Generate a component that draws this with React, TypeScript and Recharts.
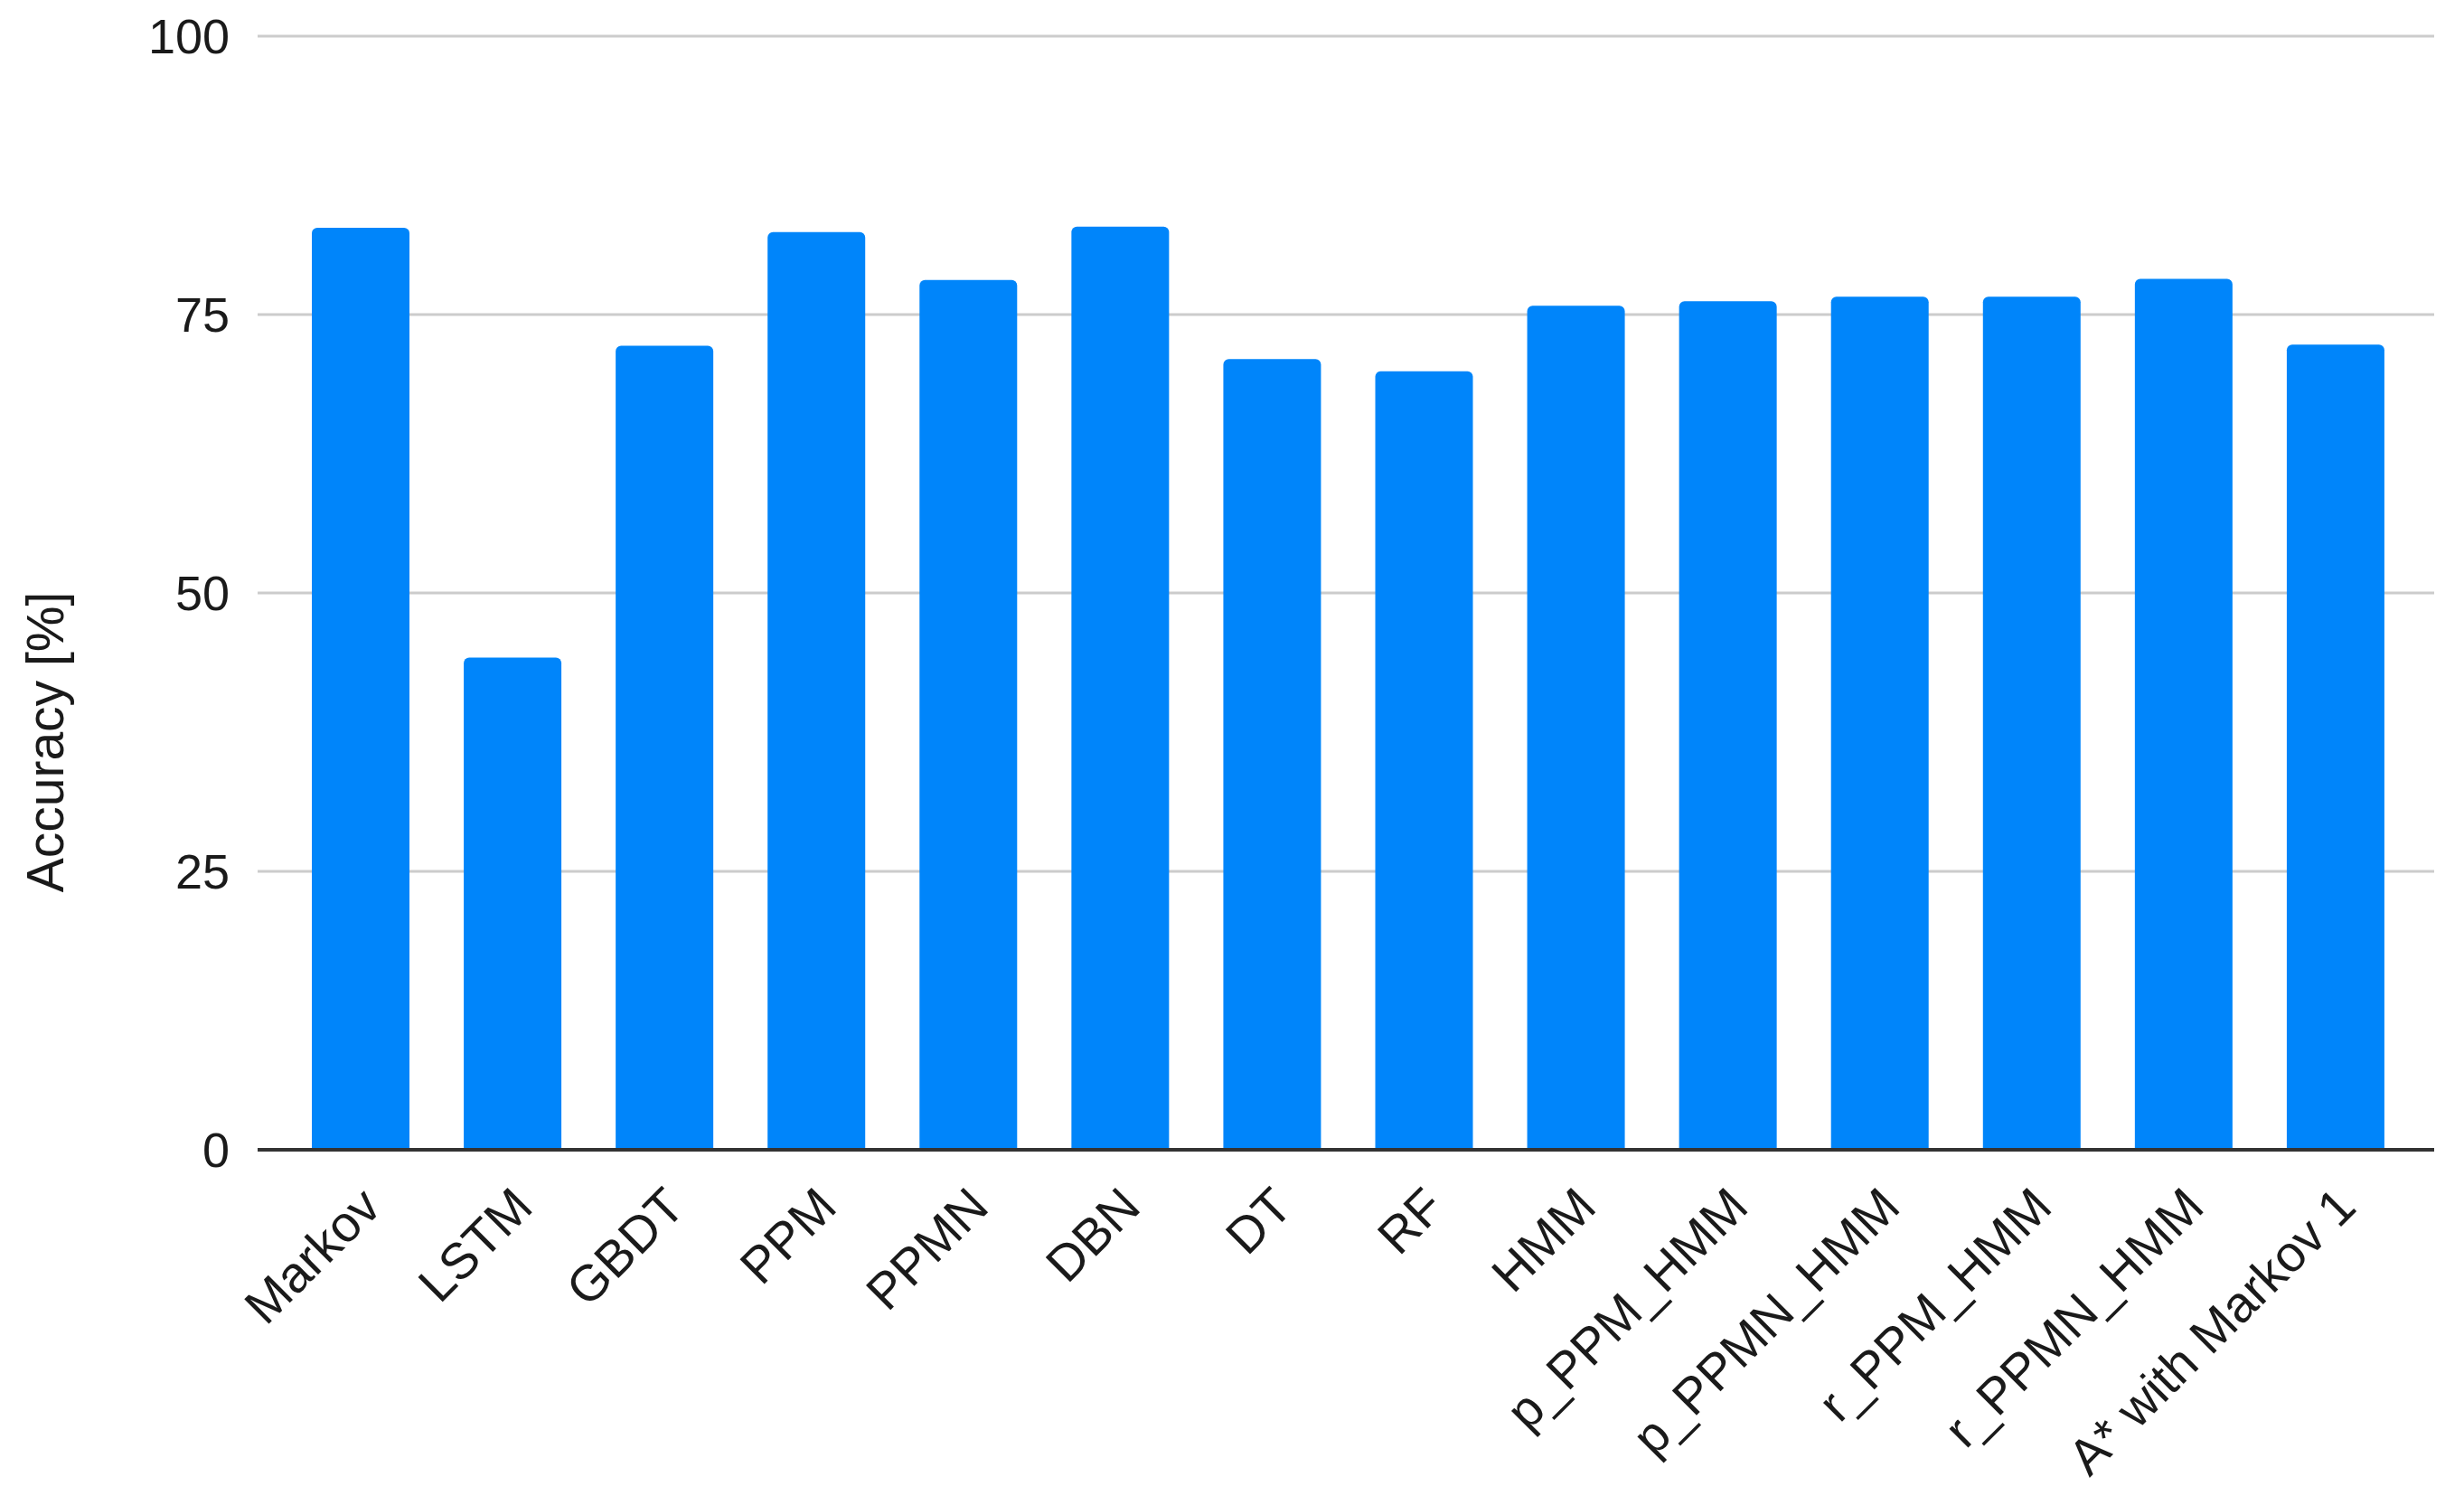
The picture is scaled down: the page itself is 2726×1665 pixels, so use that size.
import React from "react";
import { BarChart, Bar, XAxis, YAxis, CartesianGrid } from "recharts";

const MODELS = [
  "Markov",
  "LSTM",
  "GBDT",
  "PPM",
  "PPMN",
  "DBN",
  "DT",
  "RF",
  "HMM",
  "p_PPM_HMM",
  "p_PPMN_HMM",
  "r_PPM_HMM",
  "r_PPMN_HMM",
  "A* with Markov 1",
];

const ACCURACY = [
  82.8, 44.2, 72.2, 82.4, 78.1, 82.9, 71.0, 69.9, 75.8, 76.2, 76.6, 76.6, 78.2,
  72.3,
];

const Y_TICKS = [0, 25, 50, 75, 100];

const FONT = '"Liberation Sans", Arial, sans-serif';
const BLUE = "#0085FA";

const data = MODELS.map((name, i) => ({ name, accuracy: ACCURACY[i] }));

function CategoryTick({ x, y, payload }: any) {
  const ax = x + 25;
  const ay = y + 66;
  return (
    <text
      x={ax}
      y={ay}
      transform={`rotate(-45 ${ax} ${ay})`}
      textAnchor="end"
      fontSize={56}
      fontFamily={FONT}
      fill="#1a1a1a"
    >
      {payload.value}
    </text>
  );
}

function AxisTitle({ viewBox }: any) {
  const cx = viewBox.x + 50;
  const cy = viewBox.y + viewBox.height / 2 + 165;
  return (
    <text
      x={cx}
      y={cy}
      transform={`rotate(-90 ${cx} ${cy})`}
      textAnchor="middle"
      dominantBaseline="central"
      fontSize={57}
      fontFamily={FONT}
      fill="#1a1a1a"
    >
      Accuracy [%]
    </text>
  );
}

export default function App() {
  return (
    <div style={{ width: 2726, height: 1665, background: "#fff" }}>
      <style>{"body{margin:0}"}</style>
      <BarChart
        width={2726}
        height={1665}
        data={data}
        margin={{ top: 40, right: 33, bottom: 0, left: 0 }}
      >
        <CartesianGrid vertical={false} stroke="#cccccc" strokeWidth={3} />
        <XAxis
          dataKey="name"
          height={393}
          interval={0}
          padding={{ left: 30, right: 25 }}
          axisLine={{ stroke: "#333", strokeWidth: 4 }}
          tickLine={false}
          tickSize={0}
          tickMargin={0}
          tick={<CategoryTick />}
        />
        <YAxis
          width={285}
          domain={[0, 100]}
          ticks={Y_TICKS}
          axisLine={false}
          tickLine={false}
          tickSize={0}
          tickMargin={31}
          tick={{ fontSize: 54, fontFamily: FONT, fill: "#1a1a1a" }}
          label={<AxisTitle />}
        />
        <Bar
          dataKey="accuracy"
          fill={BLUE}
          barSize={108}
          radius={[6, 6, 0, 0]}
          isAnimationActive={false}
        />
      </BarChart>
    </div>
  );
}
